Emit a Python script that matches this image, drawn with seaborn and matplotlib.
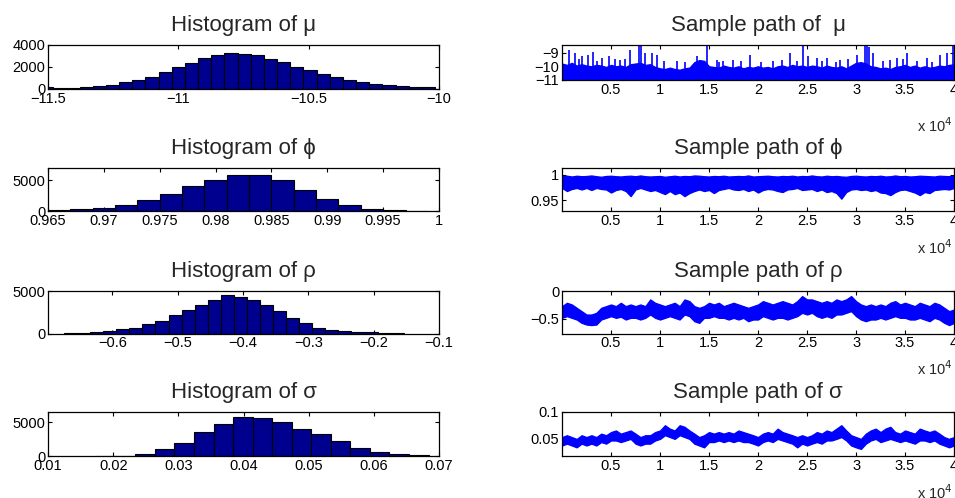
import numpy as np
import pandas as pd
import matplotlib
matplotlib.use("Agg")
import matplotlib.pyplot as plt
import seaborn as sns

# ---------------- data ----------------
mu_centers = [-11.505, -11.4545, -11.404, -11.3535, -11.303, -11.2525, -11.202, -11.1515,
              -11.101, -11.0505, -11.0, -10.9495, -10.899, -10.8485, -10.798, -10.7475,
              -10.697, -10.6465, -10.596, -10.5455, -10.495, -10.4445, -10.394, -10.3435,
              -10.293, -10.2425, -10.192, -10.1415, -10.091, -10.0405]
mu_counts = [180, 90, 120, 180, 300, 390, 600, 840, 1110, 1500, 1985, 2400, 2860, 3070, 3300,
             3190, 3100, 2740, 2440, 2015, 1715, 1380, 1050, 840, 630, 480, 360, 270, 210, 150]

phi_centers = [0.966, 0.968, 0.970, 0.972, 0.974, 0.976, 0.978, 0.980, 0.982, 0.984,
               0.986, 0.988, 0.990, 0.992, 0.994, 0.996, 0.998]
phi_counts = [150, 270, 540, 970, 1770, 2800, 4030, 5100, 5900, 5900, 5000, 3440, 1940,
              970, 380, 110, 20]

rho_centers = [-0.664, -0.644, -0.624, -0.604, -0.584, -0.564, -0.544, -0.524, -0.504,
               -0.484, -0.464, -0.444, -0.424, -0.404, -0.384, -0.364, -0.344, -0.324,
               -0.304, -0.284, -0.264, -0.244, -0.224, -0.204, -0.184, -0.164]
rho_counts = [20, 50, 120, 310, 510, 660, 1090, 1520, 2230, 2730, 3400, 3980, 4490, 4340,
              3980, 3320, 2620, 1880, 1250, 700, 470, 310, 160, 120, 40, 10]

sigma_centers = [0.0189, 0.0219, 0.0249, 0.0279, 0.0309, 0.0339, 0.0369, 0.0399, 0.0429,
                 0.0459, 0.0489, 0.0519, 0.0549, 0.0579, 0.0609, 0.0639, 0.0669]
sigma_counts = [10, 40, 350, 1060, 1970, 3590, 4800, 5860, 5610, 5100, 4040, 3280, 2170,
                1210, 560, 250, 150]

# sample paths: upper / lower envelope of the chain, every 500 iterations (0 .. 40000)
mu_upper = [-9.80, -9.90, -9.75, -9.95, -9.85, -9.95, -10.00, -9.90, -9.95, -10.05,
            -9.90, -10.00, -9.95, -10.05, -9.85, -9.80, -9.75, -9.90, -9.85, -10.05,
            -10.15, -10.20, -10.10, -10.20, -10.25, -10.15, -10.10, -9.70, -9.55, -9.60,
            -10.00, -10.05, -10.10, -9.95, -10.05, -10.10, -10.00, -10.15, -10.05, -10.10,
            -10.00, -10.10, -10.05, -10.15, -10.00, -9.95, -10.05, -9.90, -10.00, -9.95,
            -10.05, -9.95, -10.00, -10.10, -9.95, -10.05, -10.10, -10.00, -10.15, -9.95,
            -9.75, -9.70, -9.80, -10.00, -10.05, -10.15, -10.10, -10.20, -10.05, -10.00,
            -9.90, -10.05, -9.95, -10.10, -10.00, -10.10, -10.05, -9.95, -10.00, -9.90,
            -9.85]
mu_lower = [-11.40, -11.45, -11.35, -11.40, -11.50, -11.40, -11.35, -11.45, -11.40, -11.35,
            -11.45, -11.40, -11.50, -11.40, -11.35, -11.40, -11.45, -11.40, -11.35, -11.45,
            -11.40, -11.50, -11.40, -11.35, -11.45, -11.40, -11.35, -11.40, -11.45, -11.40,
            -11.35, -11.45, -11.40, -11.50, -11.40, -11.35, -11.45, -11.40, -11.35, -11.40,
            -11.45, -11.40, -11.35, -11.45, -11.40, -11.50, -11.40, -11.35, -11.45, -11.40,
            -11.35, -11.40, -11.45, -11.40, -11.35, -11.45, -11.40, -11.50, -11.40, -11.35,
            -11.45, -11.40, -11.35, -11.40, -11.45, -11.40, -11.35, -11.45, -11.40, -11.50,
            -11.40, -11.35, -11.45, -11.40, -11.35, -11.40, -11.45, -11.40, -11.35, -11.45,
            -11.40]
mu_spike_iter = [750, 1330, 1700, 2000, 2690, 3200, 3600, 4050, 4830, 5400, 5920, 6400, 6940,
                 7890, 8060, 8470, 9150, 9660, 10400, 11700, 12500, 13740, 14760, 15780, 16000,
                 16460, 17480, 18300, 19180, 20300, 21560, 22400, 23270, 24000, 24560, 25140,
                 25990, 26500, 27010, 28000, 28370, 29200, 30070, 30920, 31160, 31360, 31770,
                 32790, 33500, 34150, 34800, 35170, 36200, 37210, 37800, 38570, 39250, 39860]
mu_spike_top = [-8.81, -9.05, -9.50, -9.28, -9.15, -8.93, -9.60, -9.40, -9.28, -9.45, -9.52,
                -9.50, -8.81, -8.40, -8.40, -9.05, -9.05, -9.15, -9.60, -9.64, -9.70, -9.28,
                -8.40, -9.52, -9.70, -9.64, -9.52, -9.60, -9.15, -9.70, -9.64, -9.55, -9.05,
                -9.60, -8.40, -9.28, -9.40, -9.60, -9.40, -9.70, -9.52, -9.50, -9.15, -8.40,
                -8.40, -8.57, -9.05, -9.64, -9.55, -9.40, -9.50, -9.05, -9.60, -9.40, -9.70,
                -9.15, -9.05, -8.40]

phi_upper = [0.997, 0.998, 0.9965, 0.998, 0.997, 0.9975, 0.9985, 0.997, 0.996, 0.9975,
             0.998, 0.997, 0.9965, 0.9975, 0.998, 0.997, 0.9985, 0.997, 0.9965, 0.997,
             0.9975, 0.996, 0.997, 0.998, 0.9965, 0.9975, 0.997, 0.9985, 0.998, 0.997,
             0.9965, 0.9975, 0.997, 0.998, 0.9965, 0.997, 0.9975, 0.997, 0.9985, 0.9965,
             0.997, 0.9975, 0.998, 0.997, 0.9965, 0.9975, 0.997, 0.998, 0.9965, 0.9975,
             0.997, 0.9985, 0.997, 0.9965, 0.998, 0.997, 0.9975, 0.9965, 0.996, 0.9975,
             0.998, 0.997, 0.9965, 0.9975, 0.997, 0.998, 0.9965, 0.997, 0.9985, 0.997,
             0.9975, 0.9965, 0.997, 0.998, 0.9975, 0.997, 0.9965, 0.998, 0.9975, 0.997,
             0.998]
phi_lower = [0.974, 0.968, 0.972, 0.974, 0.971, 0.974, 0.970, 0.974, 0.972, 0.971,
             0.965, 0.970, 0.972, 0.968, 0.958, 0.971, 0.974, 0.971, 0.968, 0.970,
             0.966, 0.962, 0.968, 0.962, 0.965, 0.958, 0.964, 0.968, 0.971, 0.968,
             0.970, 0.964, 0.970, 0.972, 0.974, 0.971, 0.970, 0.972, 0.968, 0.971,
             0.965, 0.970, 0.972, 0.971, 0.968, 0.966, 0.971, 0.972, 0.974, 0.970,
             0.971, 0.972, 0.968, 0.971, 0.966, 0.968, 0.964, 0.953, 0.966, 0.971,
             0.972, 0.970, 0.971, 0.968, 0.970, 0.965, 0.964, 0.960, 0.966, 0.970,
             0.971, 0.968, 0.965, 0.960, 0.966, 0.964, 0.970, 0.971, 0.972, 0.971,
             0.974]

rho_upper = [-0.27, -0.21, -0.24, -0.30, -0.36, -0.42, -0.42, -0.39, -0.30, -0.27,
             -0.24, -0.27, -0.21, -0.27, -0.24, -0.27, -0.24, -0.27, -0.15, -0.21,
             -0.24, -0.27, -0.24, -0.21, -0.27, -0.15, -0.18, -0.27, -0.30, -0.27,
             -0.21, -0.24, -0.21, -0.27, -0.24, -0.21, -0.24, -0.27, -0.30, -0.27,
             -0.24, -0.18, -0.21, -0.24, -0.21, -0.18, -0.21, -0.24, -0.18, -0.09,
             -0.15, -0.15, -0.18, -0.21, -0.18, -0.21, -0.15, -0.18, -0.15, -0.09,
             -0.18, -0.24, -0.27, -0.24, -0.27, -0.24, -0.27, -0.21, -0.18, -0.24,
             -0.21, -0.24, -0.27, -0.21, -0.24, -0.27, -0.21, -0.24, -0.30, -0.36,
             -0.33]
rho_lower = [-0.48, -0.45, -0.48, -0.51, -0.57, -0.60, -0.61, -0.60, -0.51, -0.48,
             -0.45, -0.48, -0.46, -0.51, -0.48, -0.48, -0.51, -0.48, -0.42, -0.48,
             -0.51, -0.48, -0.45, -0.48, -0.51, -0.42, -0.45, -0.54, -0.57, -0.48,
             -0.48, -0.45, -0.48, -0.48, -0.51, -0.48, -0.51, -0.48, -0.54, -0.51,
             -0.51, -0.45, -0.48, -0.51, -0.48, -0.48, -0.51, -0.48, -0.45, -0.39,
             -0.42, -0.39, -0.45, -0.48, -0.45, -0.48, -0.42, -0.42, -0.39, -0.36,
             -0.45, -0.51, -0.54, -0.51, -0.51, -0.48, -0.51, -0.48, -0.45, -0.48,
             -0.48, -0.51, -0.51, -0.48, -0.51, -0.54, -0.48, -0.51, -0.57, -0.61,
             -0.57]

sigma_upper = [0.0525, 0.056, 0.0525, 0.049, 0.056, 0.0525, 0.056, 0.0525, 0.059, 0.056,
               0.062, 0.065, 0.059, 0.062, 0.065, 0.059, 0.0525, 0.056, 0.056, 0.062,
               0.065, 0.075, 0.0685, 0.065, 0.075, 0.072, 0.065, 0.059, 0.0525, 0.056,
               0.062, 0.059, 0.062, 0.059, 0.062, 0.059, 0.065, 0.062, 0.059, 0.056,
               0.0525, 0.059, 0.062, 0.059, 0.0685, 0.062, 0.059, 0.056, 0.0525, 0.056,
               0.0525, 0.056, 0.062, 0.059, 0.065, 0.062, 0.0685, 0.075, 0.065, 0.056,
               0.0525, 0.049, 0.059, 0.065, 0.0685, 0.062, 0.0685, 0.072, 0.062, 0.059,
               0.065, 0.062, 0.059, 0.0685, 0.065, 0.062, 0.065, 0.059, 0.0525, 0.049,
               0.0525]
sigma_lower = [0.0365, 0.040, 0.0365, 0.033, 0.040, 0.0365, 0.040, 0.0365, 0.043, 0.040,
               0.046, 0.046, 0.043, 0.046, 0.049, 0.040, 0.0365, 0.040, 0.040, 0.046,
               0.049, 0.056, 0.0525, 0.049, 0.056, 0.0525, 0.049, 0.040, 0.0365, 0.033,
               0.043, 0.043, 0.046, 0.043, 0.046, 0.043, 0.046, 0.043, 0.043, 0.040,
               0.0365, 0.043, 0.046, 0.043, 0.049, 0.046, 0.043, 0.040, 0.033, 0.040,
               0.0365, 0.040, 0.043, 0.040, 0.046, 0.046, 0.049, 0.0525, 0.046, 0.0365,
               0.033, 0.030, 0.040, 0.046, 0.049, 0.043, 0.046, 0.049, 0.046, 0.043,
               0.046, 0.043, 0.040, 0.046, 0.046, 0.043, 0.046, 0.040, 0.0365, 0.033,
               0.0365]

n_iter = 40000
trace_ticks = [5000, 10000, 15000, 20000, 25000, 30000, 35000, 40000]
trace_ticklabels = ["0.5", "1", "1.5", "2", "2.5", "3", "3.5", "4"]

hist_titles = ["Histogram of μ", "Histogram of ϕ", "Histogram of ρ", "Histogram of σ"]
trace_titles = ["Sample path of  μ", "Sample path of ϕ", "Sample path of ρ", "Sample path of σ"]

hist_xticks = [[-11.5, -11, -10.5, -10],
               [0.965, 0.97, 0.975, 0.98, 0.985, 0.99, 0.995, 1.0],
               [-0.6, -0.5, -0.4, -0.3, -0.2, -0.1],
               [0.01, 0.02, 0.03, 0.04, 0.05, 0.06, 0.07]]
hist_xticklabels = [["−11.5", "−11", "−10.5", "−10"],
                    ["0.965", "0.97", "0.975", "0.98", "0.985", "0.99", "0.995", "1"],
                    ["−0.6", "−0.5", "−0.4", "−0.3", "−0.2", "−0.1"],
                    ["0.01", "0.02", "0.03", "0.04", "0.05", "0.06", "0.07"]]
hist_xlims = [(-11.5, -10.0), (0.965, 1.0), (-0.6985, -0.1), (0.01, 0.07)]
hist_yticks = [[0, 2000, 4000], [0, 5000], [0, 5000], [0, 5000]]
hist_ylims = [(0, 4000), (0, 7000), (0, 5000), (0, 6560)]

trace_yticks = [[-11, -10, -9], [0.95, 1.0], [-0.5, 0], [0.05, 0.1]]
trace_yticklabels = [["−11", "−10", "−9"], ["0.95", "1"], ["−0.5", "0"], ["0.05", "0.1"]]
trace_ylims = [(-11.0, -8.45), (0.929, 1.013), (-0.76, 0.0), (0.0166, 0.1)]

# ---------------- style ----------------
sns.set_style("ticks")
plt.rcParams["font.family"] = ["Liberation Sans", "DejaVu Sans"]
plt.rcParams["axes.unicode_minus"] = True

NAVY = "#00008F"
BLUE = "#0000FF"

fig = plt.figure(figsize=(9.55, 4.98), dpi=100)

left_x, left_w = 0.0503, 0.4094
right_x, right_w = 0.5885, 0.4105
left_rows = [(0.8213, 0.0884), (0.5763, 0.0863), (0.3303, 0.0853), (0.0843, 0.0884)]
right_rows = [(0.8394, 0.0703), (0.5763, 0.0863), (0.3303, 0.0853), (0.0843, 0.0884)]
x10_y = [1 - 126 / 498, 1 - 248 / 498, 1 - 369 / 498, 1 - 493 / 498]


def style_axes(ax):
    ax.tick_params(direction="in", top=True, right=True, length=3, width=0.8,
                   labelsize=10.5, pad=2, colors="black")
    for s in ax.spines.values():
        s.set_visible(True)
        s.set_linewidth(0.9)
        s.set_color("black")
    ax.set_xlabel("")
    ax.set_ylabel("")


hist_data = [(mu_centers, mu_counts), (phi_centers, phi_counts),
             (rho_centers, rho_counts), (sigma_centers, sigma_counts)]
trace_data = [(mu_upper, mu_lower), (phi_upper, phi_lower),
              (rho_upper, rho_lower), (sigma_upper, sigma_lower)]

for i in range(4):
    # ---- histogram ----
    b, h = left_rows[i]
    ax = fig.add_axes([left_x, b, left_w, h])
    c = np.asarray(hist_data[i][0], dtype=float)
    n = np.asarray(hist_data[i][1], dtype=float)
    edges = np.concatenate([[c[0] - (c[1] - c[0]) / 2], (c[:-1] + c[1:]) / 2,
                            [c[-1] + (c[-1] - c[-2]) / 2]])
    df = pd.DataFrame({"value": c, "count": n})
    sns.histplot(data=df, x="value", weights="count", bins=list(edges), ax=ax,
                 color=NAVY, edgecolor="black", linewidth=0.8, alpha=1.0)
    ax.set_xlim(*hist_xlims[i])
    ax.set_ylim(*hist_ylims[i])
    ax.set_xticks(hist_xticks[i])
    ax.set_xticklabels(hist_xticklabels[i])
    ax.set_yticks(hist_yticks[i])
    ax.set_yticklabels([str(v) for v in hist_yticks[i]])
    style_axes(ax)
    ax.set_title(hist_titles[i], fontsize=16, pad=10)

    # ---- sample path ----
    b, h = right_rows[i]
    ax = fig.add_axes([right_x, b, right_w, h])
    up = np.asarray(trace_data[i][0], dtype=float)
    lo = np.asarray(trace_data[i][1], dtype=float)
    it = np.linspace(0, n_iter, len(up))
    ax.fill_between(it, lo, up, facecolor=BLUE, edgecolor=BLUE, linewidth=0.9)
    if i == 0:
        ax.vlines(mu_spike_iter, -10.6, mu_spike_top, color=BLUE, linewidth=1.2)
    ax.set_xlim(0, n_iter)
    ax.set_ylim(*trace_ylims[i])
    ax.set_xticks(trace_ticks)
    ax.set_xticklabels(trace_ticklabels)
    ax.set_yticks(trace_yticks[i])
    ax.set_yticklabels(trace_yticklabels[i])
    style_axes(ax)
    ax.set_title(trace_titles[i], fontsize=16, pad=10)
    fig.text(0.998, x10_y[i], r"x 10$^{4}$", ha="right", va="center", fontsize=10.5)

fig.savefig("out.png", dpi=100)
